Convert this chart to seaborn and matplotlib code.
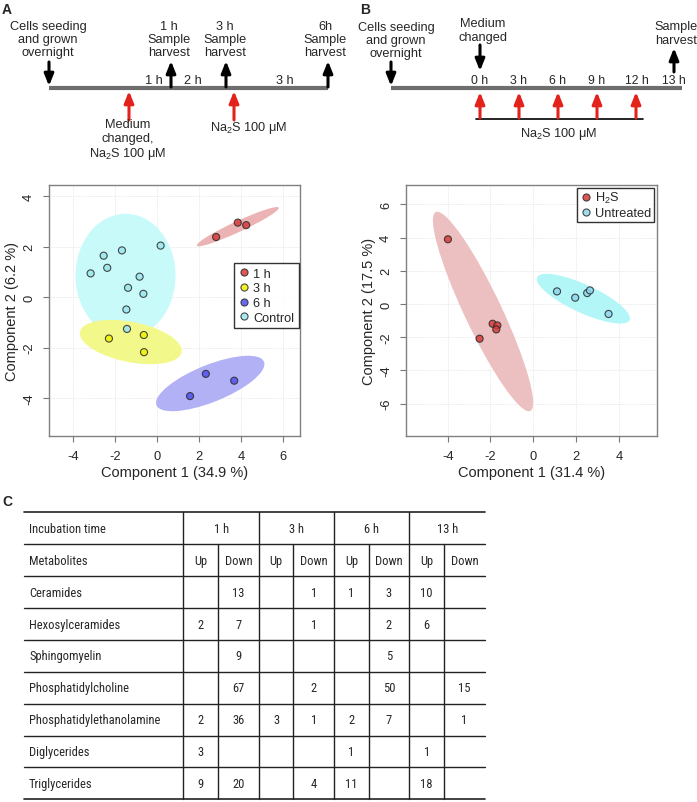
import numpy as np
import pandas as pd
import seaborn as sns
import matplotlib
matplotlib.use("Agg")
import matplotlib.pyplot as plt
from matplotlib.patches import Ellipse
from matplotlib import font_manager

# ---- PCA scores, panel A (time course) ----
groups_a = ["1 h"] * 3 + ["3 h"] * 3 + ["6 h"] * 3 + ["Control"] * 10
comp1_a = [2.81, 3.84, 4.24, -2.29, -0.63, -0.62, 2.32, 3.67, 1.57,
           -3.16, -2.54, -2.37, -1.67, 0.17, -0.83, -1.38, -0.65, -1.46, -1.43]
comp2_a = [2.38, 2.95, 2.85, -1.64, -1.50, -2.18, -3.04, -3.31, -3.92,
           0.94, 1.64, 1.16, 1.85, 2.04, 0.81, 0.37, 0.13, -0.49, -1.26]
# confidence ellipses: centre x, centre y, semi-axis a, semi-axis b, angle
ell_a_group = ["Control", "3 h", "1 h", "6 h"]
ell_a_cx = [-1.50, -1.25, 3.84, 2.53]
ell_a_cy = [0.85, -1.78, 2.79, -3.42]
ell_a_a = [2.38, 2.45, 2.09, 2.70]
ell_a_b = [2.45, 0.80, 0.22, 0.75]
ell_a_ang = [0, -9, 21, 18]

# ---- PCA scores, panel B (13 h) ----
groups_b = ["H$_2$S"] * 5 + ["Untreated"] * 5
comp1_b = [-3.99, -2.51, -1.90, -1.68, -1.73, 1.11, 1.96, 2.52, 2.65, 3.52]
comp2_b = [3.90, -2.09, -1.19, -1.29, -1.53, 0.76, 0.38, 0.66, 0.82, -0.60]
ell_b_group = ["H$_2$S", "Untreated"]
ell_b_cx = [-2.35, 2.34]
ell_b_cy = [-0.45, 0.32]
ell_b_a = [6.39, 2.52]
ell_b_b = [0.90, 0.80]
ell_b_ang = [-70, -32]

# ---- table C ----
incubation = ["1 h", "3 h", "6 h", "13 h"]
direction = ["Up", "Down"]
metabolites = ["Ceramides", "Hexosylceramides", "Sphingomyelin", "Phosphatidylcholine",
               "Phosphatidylethanolamine", "Diglycerides", "Triglycerides"]
counts = [
    [None, 13, None, 1, 1, 3, 10, None],
    [2, 7, None, 1, None, 2, 6, None],
    [None, 9, None, None, None, 5, None, None],
    [None, 67, None, 2, None, 50, None, 15],
    [2, 36, 3, 1, 2, 7, None, 1],
    [3, None, None, None, 1, None, 1, None],
    [9, 20, None, 4, 11, None, 18, None],
]

# ---- timelines ----
tl_a_top = ["1 h\nSample\nharvest", "3 h\nSample\nharvest", "6h\nSample\nharvest"]
tl_a_gaps = ["1 h", "2 h", "3 h"]
tl_b_hours = ["0 h", "3 h", "6 h", "9 h", "12 h", "13 h"]

pt_colors = {"1 h": "#d83a3a", "3 h": "#f0f000", "6 h": "#5050ee", "Control": "#9ae6ee",
             "H$_2$S": "#d83a3a", "Untreated": "#8fd6ee"}
ell_colors = {"1 h": "#ebb3b3", "3 h": "#f3f88a", "6 h": "#b3b1f6", "Control": "#c9fafa",
              "H$_2$S": "#ecc0c0", "Untreated": "#b3f6f8"}

sns.set_style("white")
plt.rcParams["font.family"] = ["Liberation Sans", "DejaVu Sans"]
plt.rcParams["mathtext.fontset"] = "custom"
plt.rcParams["mathtext.rm"] = "Liberation Sans"
plt.rcParams["mathtext.it"] = "Liberation Sans:italic"
plt.rcParams["axes.unicode_minus"] = False

# the table uses a condensed face if one is installed
table_kw = dict(family="Liberation Sans", fontsize=8.2)
fonts = font_manager.fontManager.ttflist
names = {f.name for f in fonts}
for cand in ["Liberation Sans Narrow", "Arial Narrow", "Roboto Condensed", "Open Sans Condensed"]:
    if cand in names:
        table_kw = dict(family=cand, fontsize=9.0)
        break
else:
    cond = [f for f in fonts if f.name == "DejaVu Sans" and f.stretch == "condensed"
            and f.weight in (400, "normal") and f.style == "normal"]
    if cond:
        table_kw = dict(family="DejaVu Sans", fontstretch="condensed", fontsize=8.4)

W, H = 697, 803
fig = plt.figure(figsize=(W / 100, H / 100), dpi=100)

# overlay axes in pixel units for the schematics and the table
ov = fig.add_axes([0, 0, 1, 1])
ov.set_xlim(0, W)
ov.set_ylim(H, 0)
ov.axis("off")


def arrow(x, y0, y1, color):
    ov.annotate("", xy=(x, y1), xytext=(x, y0),
                arrowprops=dict(arrowstyle="-|>,head_width=0.28,head_length=0.7",
                                color=color, lw=2.2, shrinkA=0, shrinkB=0))


red = "#e3221c"
fs = 9.2
for lab, x, y in [("A", 2, 10), ("B", 360, 10), ("C", 2, 502)]:
    ov.text(x, y, lab, fontsize=10, fontweight="bold", va="center", ha="left")

# timeline A
ov.plot([49, 328], [89, 89], color="#6e6e6e", lw=3, solid_capstyle="butt")
ov.text(48, 40, "Cells seeding\nand grown\novernight", ha="center", va="center", fontsize=fs, linespacing=1.15)
arrow(49, 63, 87, "black")
for lab, xt, xa in zip(tl_a_top, [169, 225, 325.5], [171, 226, 328]):
    ov.text(xt, 40, lab, ha="center", va="center", fontsize=fs, linespacing=1.15)
    arrow(xa, 88, 62, "black")
for lab, x in zip(tl_a_gaps, [154, 193, 285]):
    ov.text(x, 81, lab, ha="center", va="center", fontsize=fs)
arrow(129, 121, 92, red)
arrow(234, 121, 92, red)
ov.text(128, 141, "Medium\nchanged,\nNa$_2$S 100 μM", ha="center", va="center", fontsize=fs, linespacing=1.15)
ov.text(249, 128, "Na$_2$S 100 μM", ha="center", va="center", fontsize=fs)

# timeline B
ov.plot([391, 682], [89, 89], color="#6e6e6e", lw=3, solid_capstyle="butt")
ov.text(396, 41, "Cells seeding\nand grown\novernight", ha="center", va="center", fontsize=fs, linespacing=1.15)
arrow(391, 63, 87, "black")
ov.text(483, 31, "Medium\nchanged", ha="center", va="center", fontsize=fs, linespacing=1.15)
arrow(480, 46, 72, "black")
ov.text(676, 34, "Sample\nharvest", ha="center", va="center", fontsize=fs, linespacing=1.15)
arrow(674, 73, 49, "black")
for lab, x in zip(tl_b_hours, [480, 518, 557.5, 596.5, 636.5, 674]):
    ov.text(x, 81, lab, ha="center", va="center", fontsize=fs - 0.4)
for x in [480, 519, 558, 597, 636]:
    arrow(x, 119, 93, red)
ov.plot([476, 643], [120, 120], color="black", lw=1.2)
ov.text(559, 133.5, "Na$_2$S 100 μM", ha="center", va="center", fontsize=fs)


def pca_panel(rect, df, ell, xlim, ylim, xticks, yticks, xlab, ylab, order):
    ax = fig.add_axes(rect)
    ax.grid(True, color="#e4e4e4", lw=0.6, ls=(0, (1, 1)))
    ax.set_axisbelow(True)
    for g, cx, cy, a, b, ang in zip(*ell):
        ax.add_patch(Ellipse((cx, cy), 2 * a, 2 * b, angle=ang, facecolor=ell_colors[g],
                             edgecolor="none", zorder=1))
    sns.scatterplot(data=df, x="x", y="y", hue="group", hue_order=order, palette=pt_colors,
                    s=26, edgecolor="#2a2a2a", linewidth=0.8, alpha=0.85, ax=ax, zorder=3)
    ax.set_xlim(*xlim)
    ax.set_ylim(*ylim)
    ax.set_xticks(xticks)
    ax.set_yticks(yticks)
    ax.tick_params(axis="both", length=4, width=0.8, color="#777777", labelsize=9.3, pad=6,
                   direction="out", bottom=True, left=True)
    for lbl in ax.get_yticklabels():
        lbl.set_rotation(90)
        lbl.set_va("center")
    for sp in ax.spines.values():
        sp.set_color("#808080")
        sp.set_linewidth(1.0)
    ax.set_xlabel(xlab, fontsize=10.5, labelpad=2)
    ax.set_ylabel(ylab, fontsize=10.5, labelpad=3)
    return ax


df_a = pd.DataFrame({"x": comp1_a, "y": comp2_a, "group": groups_a})
ax_a = pca_panel([49 / W, 1 - 437 / H, 251 / W, 251 / H], df_a,
                 (ell_a_group, ell_a_cx, ell_a_cy, ell_a_a, ell_a_b, ell_a_ang),
                 (-5.14, 6.8), (-5.5, 4.44), [-4, -2, 0, 2, 4, 6], [-4, -2, 0, 2, 4],
                 "Component 1 (34.9 %)", "Component 2 (6.2 %)", ["1 h", "3 h", "6 h", "Control"])
leg = ax_a.legend(loc="upper left", bbox_to_anchor=(0.738, 0.689), fontsize=9.2, frameon=True,
                  fancybox=False, edgecolor="black", handletextpad=0.35, borderpad=0.35,
                  labelspacing=0.22, handlelength=0.8, borderaxespad=0)
leg.get_frame().set_linewidth(1.0)

df_b = pd.DataFrame({"x": comp1_b, "y": comp2_b, "group": groups_b})
ax_b = pca_panel([406 / W, 1 - 437.3 / H, 250.7 / W, 251.3 / H], df_b,
                 (ell_b_group, ell_b_cx, ell_b_cy, ell_b_a, ell_b_b, ell_b_ang),
                 (-5.95, 5.77), (-7.97, 7.17), [-4, -2, 0, 2, 4], [-6, -4, -2, 0, 2, 4, 6],
                 "Component 1 (31.4 %)", "Component 2 (17.5 %)", ["H$_2$S", "Untreated"])
leg = ax_b.legend(loc="upper right", bbox_to_anchor=(1.0, 1.0), fontsize=9.2, frameon=True,
                  fancybox=False, edgecolor="black", handletextpad=0.2, borderpad=0.2,
                  labelspacing=0.15, borderaxespad=0.2, handlelength=1.0)
leg.get_frame().set_linewidth(1.0)

# table C
row_y = [513.3, 545, 577.3, 609.3, 641, 672.7, 705, 736.7, 768.3, 800]
group_x = [183.3, 259, 334, 409.3, 485]
sub_x = [218.3, 293.3, 368.7, 444]
for i, y in enumerate(row_y):
    ov.plot([24, 485], [y, y], color="#222222", lw=1.2 if i in (0, len(row_y) - 1) else 1.0)
for x in group_x[:-1]:
    ov.plot([x, x], [row_y[0], row_y[-1]], color="#222222", lw=1.0)
for x in sub_x:
    ov.plot([x, x], [row_y[1], row_y[-1]], color="#222222", lw=1.0)

mid = [(row_y[i] + row_y[i + 1]) / 2 for i in range(len(row_y) - 1)]
ov.text(29, mid[0], "Incubation time", va="center", ha="left", **table_kw)
ov.text(29, mid[1], "Metabolites", va="center", ha="left", **table_kw)
for k, lab in enumerate(incubation):
    ov.text((group_x[k] + group_x[k + 1]) / 2, mid[0], lab, ha="center", va="center", **table_kw)
col_edges = sorted(group_x + sub_x)
col_c = [(col_edges[j] + col_edges[j + 1]) / 2 for j in range(len(col_edges) - 1)]
for j, c in enumerate(col_c):
    ov.text(c, mid[1], direction[j % 2], ha="center", va="center", **table_kw)
for r, name in enumerate(metabolites):
    ov.text(29, mid[r + 2], name, va="center", ha="left", **table_kw)
    for j, v in enumerate(counts[r]):
        if v is not None:
            ov.text(col_c[j], mid[r + 2], str(v), ha="center", va="center", **table_kw)

fig.savefig("out.png", dpi=100)
